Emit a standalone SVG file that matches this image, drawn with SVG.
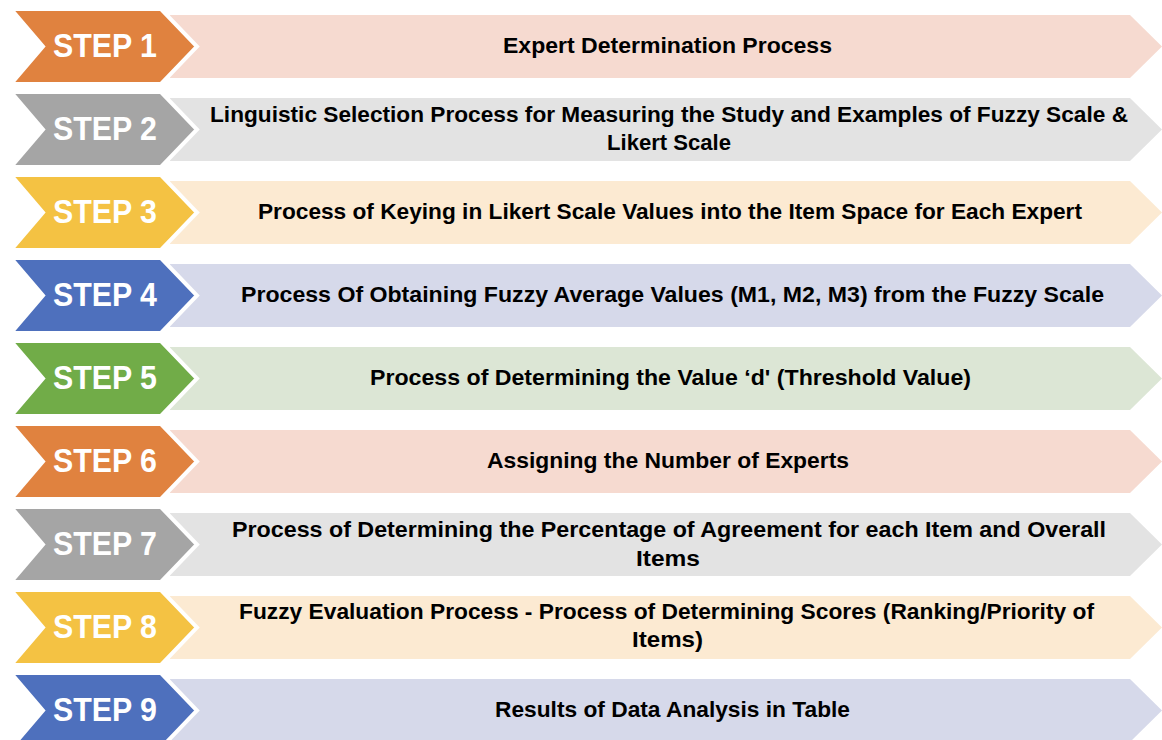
<svg xmlns="http://www.w3.org/2000/svg" width="1162" height="740" viewBox="0 0 1162 740">
<defs>
<style>
.step{font-family:"Liberation Sans",Arial,sans-serif;font-weight:bold;font-size:33px;fill:#fff;text-anchor:middle}
.lbl{font-family:"Liberation Sans",Arial,sans-serif;font-weight:bold;font-size:21.5px;fill:#000;text-anchor:middle}
.chev{stroke:#fff;stroke-width:4;stroke-linejoin:miter}
.or{fill:#E0823F}.gr{fill:#A5A5A5}.ye{fill:#F4C243}.bl{fill:#4E70BD}.gn{fill:#71AC48}
.bor{fill:#F6DAD0}.bgr{fill:#E3E3E3}.bye{fill:#FCEAD2}.bbl{fill:#D6D9EA}.bgn{fill:#DCE6D5}
</style>
<polygon id="banner" points="170,4 1130,4 1162,35.5 1130,67 170,67"/>
<polygon id="chevron" points="11,-2 161,-2 197,35.5 161,73 11,73 43,35.5" class="chev"/>
</defs>
<rect width="1162" height="740" fill="#fff"/>
<g id="step1" transform="translate(0,11)">
<use href="#banner" class="bor"/><use href="#chevron" class="or"/>
<text class="step" x="105" y="46" textLength="104" lengthAdjust="spacingAndGlyphs">STEP 1</text>
<text class="lbl" x="667.5" y="42.3" textLength="329" lengthAdjust="spacingAndGlyphs">Expert Determination Process</text>
</g>
<g id="step2" transform="translate(0,94)">
<use href="#banner" class="bgr"/><use href="#chevron" class="gr"/>
<text class="step" x="105" y="46" textLength="104" lengthAdjust="spacingAndGlyphs">STEP 2</text>
<text class="lbl" x="669" y="27.8" textLength="918" lengthAdjust="spacingAndGlyphs">Linguistic Selection Process for Measuring the Study and Examples of Fuzzy Scale &amp;</text>
<text class="lbl" x="669" y="55.8" textLength="124" lengthAdjust="spacingAndGlyphs">Likert Scale</text>
</g>
<g id="step3" transform="translate(0,177)">
<use href="#banner" class="bye"/><use href="#chevron" class="ye"/>
<text class="step" x="105" y="46" textLength="104" lengthAdjust="spacingAndGlyphs">STEP 3</text>
<text class="lbl" x="670" y="42.3" textLength="824" lengthAdjust="spacingAndGlyphs">Process of Keying in Likert Scale Values into the Item Space for Each Expert</text>
</g>
<g id="step4" transform="translate(0,260)">
<use href="#banner" class="bbl"/><use href="#chevron" class="bl"/>
<text class="step" x="105" y="46" textLength="104" lengthAdjust="spacingAndGlyphs">STEP 4</text>
<text class="lbl" x="672.5" y="42.3" textLength="863" lengthAdjust="spacingAndGlyphs">Process Of Obtaining Fuzzy Average Values (M1, M2, M3) from the Fuzzy Scale</text>
</g>
<g id="step5" transform="translate(0,343)">
<use href="#banner" class="bgn"/><use href="#chevron" class="gn"/>
<text class="step" x="105" y="46" textLength="104" lengthAdjust="spacingAndGlyphs">STEP 5</text>
<text class="lbl" x="670.5" y="42.3" textLength="601" lengthAdjust="spacingAndGlyphs">Process of Determining the Value ‘d' (Threshold Value)</text>
</g>
<g id="step6" transform="translate(0,426)">
<use href="#banner" class="bor"/><use href="#chevron" class="or"/>
<text class="step" x="105" y="46" textLength="104" lengthAdjust="spacingAndGlyphs">STEP 6</text>
<text class="lbl" x="668" y="42.3" textLength="362" lengthAdjust="spacingAndGlyphs">Assigning the Number of Experts</text>
</g>
<g id="step7" transform="translate(0,509)">
<use href="#banner" class="bgr"/><use href="#chevron" class="gr"/>
<text class="step" x="105" y="46" textLength="104" lengthAdjust="spacingAndGlyphs">STEP 7</text>
<text class="lbl" x="669" y="28.3" textLength="874" lengthAdjust="spacingAndGlyphs">Process of Determining the Percentage of Agreement for each Item and Overall</text>
<text class="lbl" x="668" y="56.5" textLength="64" lengthAdjust="spacingAndGlyphs">Items</text>
</g>
<g id="step8" transform="translate(0,592)">
<use href="#banner" class="bye"/><use href="#chevron" class="ye"/>
<text class="step" x="105" y="46" textLength="104" lengthAdjust="spacingAndGlyphs">STEP 8</text>
<text class="lbl" x="666.5" y="27" textLength="855" lengthAdjust="spacingAndGlyphs">Fuzzy Evaluation Process - Process of Determining Scores (Ranking/Priority of</text>
<text class="lbl" x="667.5" y="54.5" textLength="71" lengthAdjust="spacingAndGlyphs">Items)</text>
</g>
<g id="step9" transform="translate(0,675)">
<use href="#banner" class="bbl"/><use href="#chevron" class="bl"/>
<text class="step" x="105" y="46" textLength="104" lengthAdjust="spacingAndGlyphs">STEP 9</text>
<text class="lbl" x="672.5" y="42.3" textLength="355" lengthAdjust="spacingAndGlyphs">Results of Data Analysis in Table</text>
</g>
<g id="connectors"></g>
</svg>
